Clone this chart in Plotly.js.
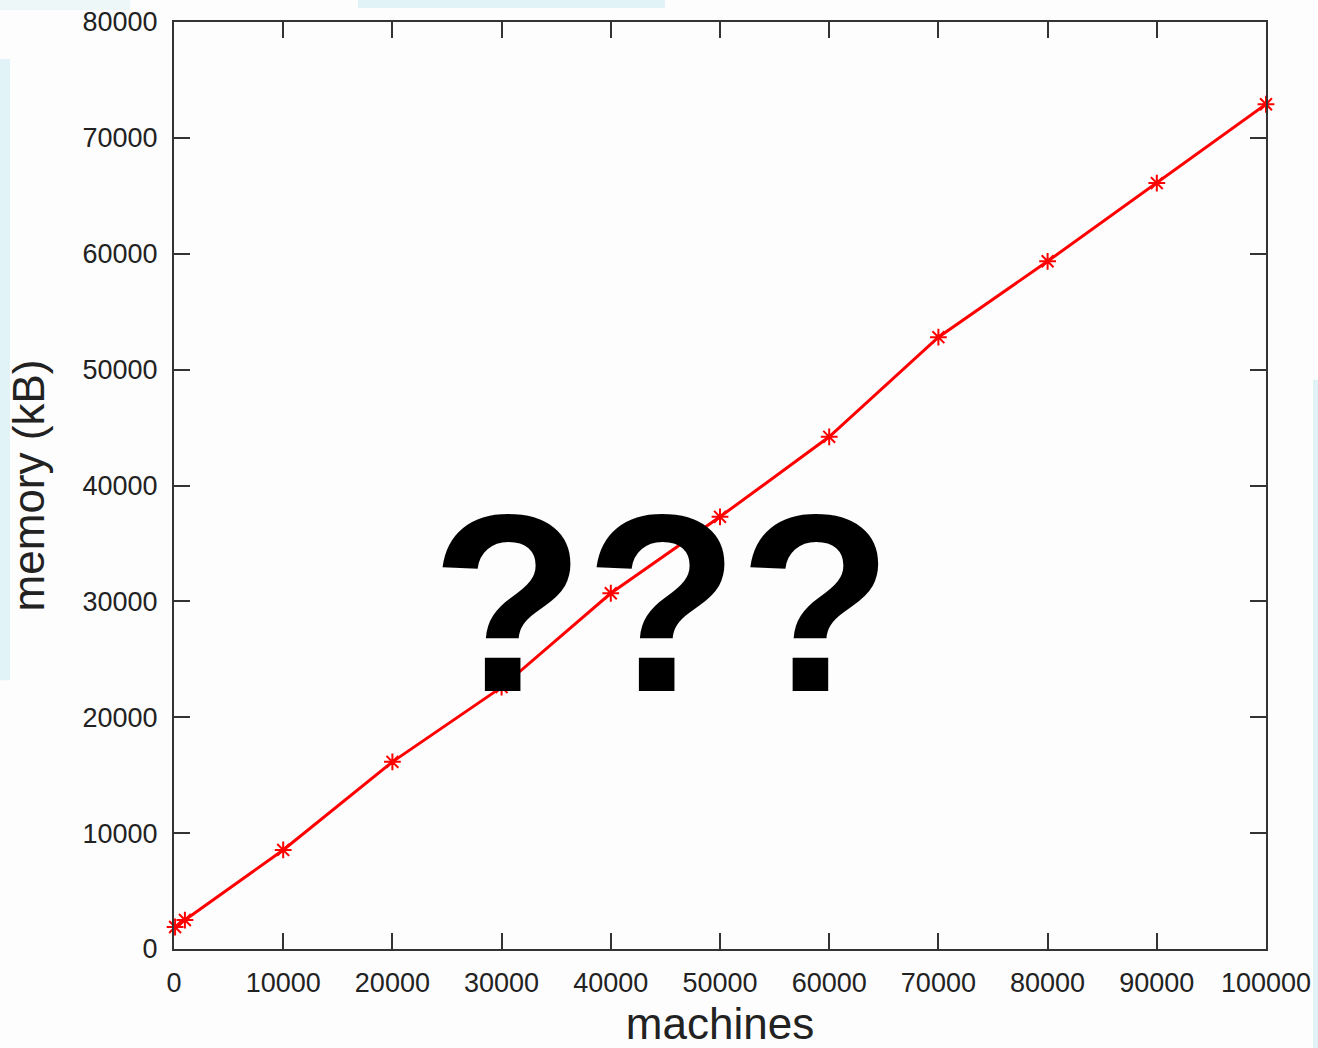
<!DOCTYPE html>
<html>
<head>
<meta charset="utf-8">
<script src="https://cdn.plot.ly/plotly-3.0.1.min.js"></script>
<style>
html,body{margin:0;padding:0;background:#fdfdfd;}
#chart{width:1318px;height:1048px;}
</style>
</head>
<body>
<div id="chart"></div>
<script>
// Data
var machines = [100, 1000, 10000, 20000, 30000, 40000, 50000, 60000, 70000, 80000, 90000, 100000];
var memoryKB = [1900, 2500, 8550, 16150, 22600, 30700, 37300, 44200, 52800, 59350, 66100, 72900];
var xTicks = [0, 10000, 20000, 30000, 40000, 50000, 60000, 70000, 80000, 90000, 100000];
var yTicks = [0, 10000, 20000, 30000, 40000, 50000, 60000, 70000, 80000];
var xTitle = 'machines';
var yTitle = 'memory (kB)';
var overlayText = '???';

var trace = {
  x: machines,
  y: memoryKB,
  type: 'scatter',
  mode: 'lines+markers',
  cliponaxis: false,
  line: {color: '#ff0000', width: 3},
  marker: {symbol: 'asterisk-open', size: 14, color: '#ff0000', line: {color: '#ff0000', width: 2}},
  hoverinfo: 'x+y'
};

var axisCommon = {
  showline: true,
  mirror: 'ticks',
  linecolor: '#333333',
  linewidth: 2,
  ticks: 'inside',
  ticklen: 16,
  tickwidth: 2,
  tickcolor: '#333333',
  showgrid: false,
  zeroline: false,
  tickformat: 'd',
  ticklabelstandoff: 9,
  tickfont: {family: 'Liberation Sans, Arial, sans-serif', size: 27, color: '#222222'}
};

var bandColor = '#e2f3f8';

var layout = {
  width: 1318,
  height: 1048,
  paper_bgcolor: '#fdfdfd',
  plot_bgcolor: '#fdfdfd',
  margin: {l: 174, r: 52, t: 22, b: 99},
  showlegend: false,
  font: {family: 'Liberation Sans, Arial, sans-serif', color: '#222222'},
  xaxis: Object.assign({}, axisCommon, {
    range: [0, 100000],
    tickvals: xTicks,
    title: {text: xTitle, font: {size: 44, color: '#222222'}, standoff: 12}
  }),
  yaxis: Object.assign({}, axisCommon, {
    range: [0, 80000],
    tickvals: yTicks,
    title: {text: yTitle, font: {size: 44, color: '#222222'}, standoff: 24}
  }),
  shapes: [
    {type: 'rect', xref: 'paper', yref: 'paper', x0: -0.1593, x1: -0.1502, y0: 0.29, y1: 0.96, fillcolor: bandColor, line: {width: 0}, layer: 'below'},
    {type: 'rect', xref: 'paper', yref: 'paper', x0: 1.043, x1: 1.05, y0: -0.107, y1: 0.614, fillcolor: bandColor, line: {width: 0}, layer: 'below'},
    {type: 'rect', xref: 'paper', yref: 'paper', x0: 0.1685, x1: 0.4496, y0: 1.0151, y1: 1.0237, fillcolor: bandColor, line: {width: 0}, layer: 'below'},
    {type: 'rect', xref: 'paper', yref: 'paper', x0: -0.1593, x1: -0.04, y0: 1.013, y1: 1.0237, fillcolor: '#eef7f8', line: {width: 0}, layer: 'below'}
  ],
  annotations: [
    {
      text: '<b>' + overlayText + '</b>',
      xref: 'paper', yref: 'paper',
      x: 0.447, y: 0.373,
      xanchor: 'center', yanchor: 'middle',
      showarrow: false,
      font: {family: 'Liberation Sans, Arial, sans-serif', size: 252, color: '#000000'}
    }
  ]
};

Plotly.newPlot('chart', [trace], layout, {displayModeBar: false, staticPlot: true});
</script>
</body>
</html>
